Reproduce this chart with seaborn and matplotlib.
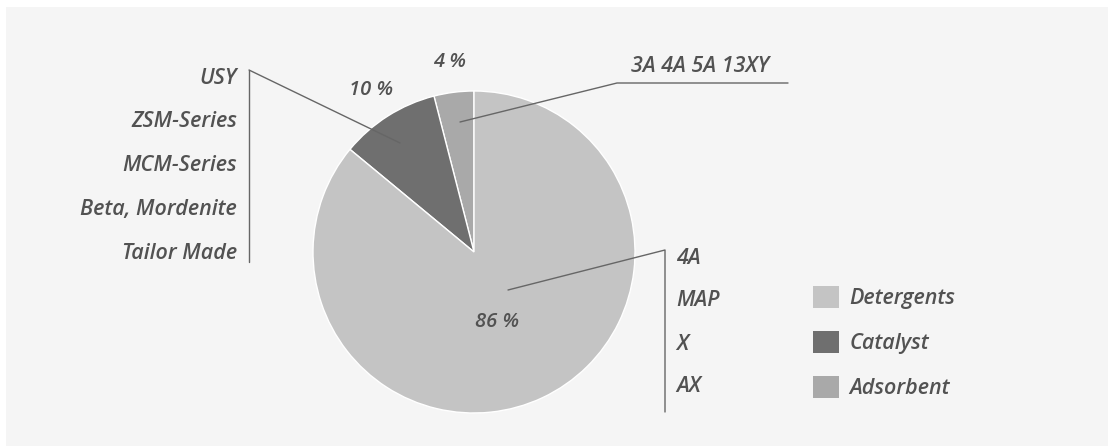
import numpy as np
import matplotlib
matplotlib.use("Agg")
import matplotlib.pyplot as plt
from matplotlib.patches import Rectangle, Patch
import seaborn as sns

# ---- data ----
categories = ["Adsorbent", "Catalyst", "Detergents"]
shares = [4, 10, 86]
colors = ["#a9a9a9", "#6f6f6f", "#c4c4c4"]
legend_order = ["Detergents", "Catalyst", "Adsorbent"]
catalyst_grades = ["USY", "ZSM-Series", "MCM-Series", "Beta, Mordenite", "Tailor Made"]
detergent_grades = ["4A", "MAP", "X", "AX"]
adsorbent_grades = ["3A 4A 5A 13XY"]

sns.set_theme(style="white")
plt.rcParams["font.family"] = ["Open Sans", "DejaVu Sans"]

W, H = 1108, 446
fig = plt.figure(figsize=(W / 100, H / 100), dpi=100, facecolor="white")
ax = fig.add_axes([0, 0, 1, 1])

def Y(py):
    return H - py

TXT = "#525252"
FS = 15.5
FW = 600

# panel background
ax.add_patch(Rectangle((6, 0), W - 6, H - 7, facecolor="#f5f5f5", edgecolor="none", zorder=0))

cx, cy, R = 474, Y(252), 161
wedges, _ = ax.pie(shares, colors=colors, startangle=90, counterclock=True,
                   center=(cx, cy), radius=R, frame=True,
                   wedgeprops=dict(edgecolor="white", linewidth=1.0))
ax.set_xlim(0, W)
ax.set_ylim(0, H)
ax.set_aspect("equal")
ax.axis("off")

# percentage labels
cum = np.cumsum([0] + shares)
for i, (cat, s) in enumerate(zip(categories, shares)):
    mid = np.deg2rad(90 + 3.6 * (cum[i] + cum[i + 1]) / 2)
    if cat == "Detergents":
        x, y = 497, Y(322)
    else:
        x = cx + 1.19 * R * np.cos(mid)
        y = cy + 1.19 * R * np.sin(mid)
    ax.text(x, y, f"{s} %", ha="center", va="center", fontsize=FS - 1,
            style="italic", weight=FW, color=TXT)

LC = "#666666"
# catalyst grades (left)
ax.plot([249, 249], [Y(70), Y(262)], color=LC, lw=1.0)
ax.plot([249, 400], [Y(70), Y(143)], color=LC, lw=1.0)
for k, t in enumerate(catalyst_grades):
    ax.text(237, Y(78 + 43.8 * k), t, ha="right", va="center", fontsize=FS,
            style="italic", weight=FW, color=TXT)

# adsorbent grades (top right)
ax.plot([460, 617, 788], [Y(122), Y(83), Y(83)], color=LC, lw=1.0)
ax.text(631, Y(66), adsorbent_grades[0], ha="left", va="center", fontsize=FS,
        style="italic", weight=FW, color=TXT)

# detergent grades (right)
ax.plot([508, 665, 665], [Y(290), Y(250), Y(412)], color=LC, lw=1.0)
for k, t in enumerate(detergent_grades):
    ax.text(676, Y(258 + 43 * k), t, ha="left", va="center", fontsize=FS,
            style="italic", weight=FW, color=TXT)

# legend
handles = [Patch(facecolor=colors[categories.index(c)], edgecolor="none") for c in legend_order]
leg = ax.legend(handles, legend_order, loc="upper left", bbox_to_anchor=(813, Y(286)),
                bbox_transform=ax.transData, frameon=False, borderpad=0, borderaxespad=0,
                handlelength=1.2, handleheight=1.2, handletextpad=0.5, labelspacing=1.0,
                prop=dict(size=FS, style="italic", weight=FW))
for t in leg.get_texts():
    t.set_color(TXT)

fig.savefig("out.png", dpi=100, facecolor="white")
